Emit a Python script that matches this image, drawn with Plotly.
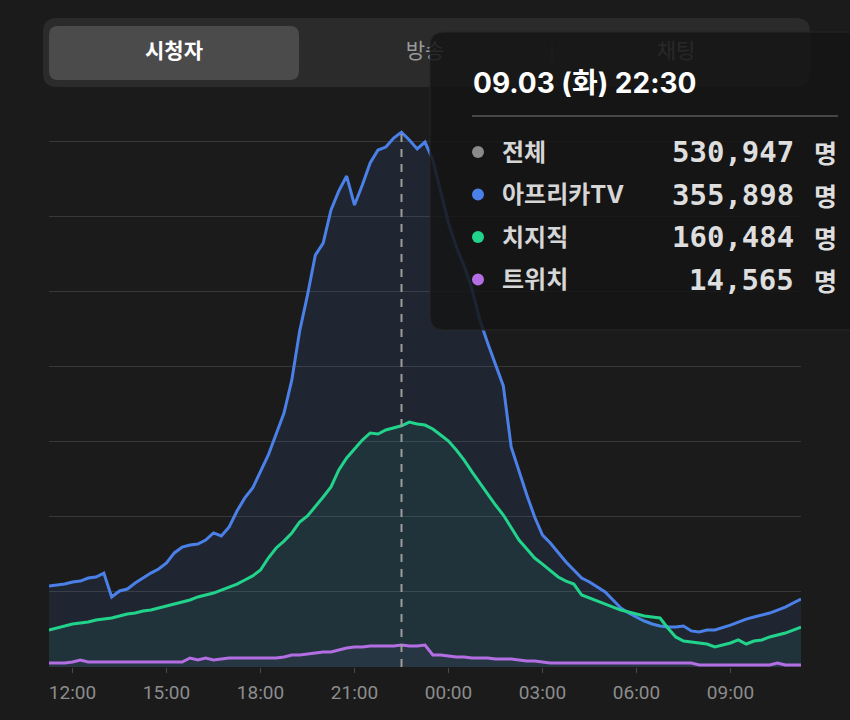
import pandas as pd
import plotly.graph_objects as go

# 09.03 11:15 ~ 09.04 11:15, 15분 간격
times = pd.date_range("2024-09-03 11:15", "2024-09-04 11:15", freq="15min")

afreeca = [
    53900, 54600, 55200, 56600, 57200, 59200, 59900, 62500, 46600, 50600,
    51900, 55900, 59200, 62500, 65200, 69200, 75900, 79800, 81200, 81800,
    84500, 89200, 87200, 93200, 103800, 112500, 119100, 129800, 141100, 155000,
    169000, 191000, 223600, 247500, 274100, 282100, 304100, 316800, 326700, 307400,
    320700, 335400, 344000, 346000, 352000, 355898, 350700, 344700, 349300, 337400,
    316000, 295400, 279500, 266800, 251500, 230900, 215600, 201000, 187000, 146400,
    129800, 114500, 99800, 87800, 82500, 75900, 69900, 64500, 59200, 56600,
    53200, 49900, 44600, 39300, 35900, 33300, 30600, 28600, 27300, 26600,
    26600, 27300, 24000, 23300, 24600, 24600, 26000, 27900, 29900, 31900,
    33300, 34600, 35900, 37900, 39900, 42600, 45200,
]
chzzk = [
    24600, 26000, 27300, 28600, 29300, 29900, 31300, 31900, 32600, 33900,
    35300, 35900, 37300, 37900, 39300, 40600, 41900, 43300, 44600, 46600,
    47900, 49200, 51200, 53200, 55200, 57900, 60600, 64500, 72500, 79200,
    83800, 89200, 96500, 100500, 106500, 113100, 119800, 131100, 139100, 145100,
    151000, 155700, 155000, 157700, 159000, 160484, 163000, 161700, 161000, 158400,
    154400, 150400, 144400, 137700, 129800, 122400, 115100, 107800, 101100, 92500,
    84500, 78500, 72500, 68500, 64500, 59900, 57200, 55200, 47900, 45900,
    43900, 41900, 39900, 37900, 36600, 35300, 33900, 33300, 32600, 26000,
    20000, 17300, 16600, 16000, 15300, 13300, 14600, 16000, 18000, 15300,
    17300, 18000, 20000, 21300, 22600, 24600, 26600,
]
twitch = [
    2700, 2700, 2700, 3300, 4700, 3300, 3300, 3300, 3300, 3300,
    3300, 3300, 3300, 3300, 3300, 3300, 3300, 3300, 6000, 4700,
    6000, 4700, 5300, 6000, 6000, 6000, 6000, 6000, 6000, 6000,
    6700, 8000, 8000, 8700, 9300, 10000, 10000, 11300, 12600, 13300,
    13300, 14000, 14000, 14000, 14000, 14565, 14000, 14000, 14600, 8000,
    8000, 7300, 6700, 6700, 6000, 6000, 6000, 5300, 5300, 5300,
    4700, 4000, 4000, 3300, 2700, 2700, 2700, 2700, 2700, 2700,
    2700, 2700, 2700, 2700, 2700, 2700, 2700, 2700, 2700, 2700,
    2700, 2700, 2700, 1300, 1300, 1300, 1300, 1300, 1300, 1300,
    1300, 1300, 1300, 2700, 1300, 1300, 1300,
]

series_names = ["아프리카TV", "치지직", "트위치"]
series_values = [afreeca, chzzk, twitch]
series_colors = ["#4a80e8", "#22d38c", "#b46ee3"]
fill_colors = ["rgba(74,128,232,0.11)", "rgba(34,200,160,0.08)", "rgba(180,110,227,0.05)"]
total_name = "전체"
total_color = "#8a8a8a"

tick_times = pd.date_range("2024-09-03 12:00", periods=8, freq="3h")
tabs = ["시청자", "방송", "채팅"]
hover_idx = 45
weekdays_ko = ["월", "화", "수", "목", "금", "토", "일"]

W, H = 850, 720
BG = "#1b1b1b"
PLOT_L, PLOT_R, PLOT_B, PLOT_T = 49, 801, 667, 100
PX_PER_50K = 75.14
KR = "Noto Sans CJK KR"


def rounded_rect(x0, y0, x1, y1, r):
    return (
        f"M {x0},{y0 + r} Q {x0},{y0} {x0 + r},{y0} L {x1 - r},{y0} "
        f"Q {x1},{y0} {x1},{y0 + r} L {x1},{y1 - r} Q {x1},{y1} {x1 - r},{y1} "
        f"L {x0 + r},{y1} Q {x0},{y1} {x0},{y1 - r} Z"
    )


fig = go.Figure()

for name, vals, color, fill in zip(series_names, series_values, series_colors, fill_colors):
    fig.add_trace(
        go.Scatter(
            x=times,
            y=vals,
            name=name,
            mode="lines",
            line=dict(color=color, width=3),
            fill="tozeroy",
            fillcolor=fill,
            hoverinfo="skip",
        )
    )

# 상단 탭 라벨 (툴팁 아래에 깔리도록 trace로)
fig.add_trace(
    go.Scatter(
        x=[174], y=[53], xaxis="x2", yaxis="y2", mode="text", text=[tabs[0]],
        textfont=dict(family=KR, size=21, color="#ffffff", weight="bold"),
        hoverinfo="skip",
    )
)
fig.add_trace(
    go.Scatter(
        x=[425, 676], y=[53, 53], xaxis="x2", yaxis="y2", mode="text", text=tabs[1:],
        textfont=dict(family=KR, size=21, color="#9a9a9a"),
        hoverinfo="skip",
    )
)

shapes = [
    dict(type="path", path=rounded_rect(43, 18, 810, 87, 14), xref="x2", yref="y2",
         fillcolor="#2b2b2b", line=dict(width=0), layer="below"),
    dict(type="path", path=rounded_rect(49, 26, 299, 80, 9), xref="x2", yref="y2",
         fillcolor="#4b4b4b", line=dict(width=0), layer="below"),
    dict(type="line", x0=552, x1=552, y0=45, y1=61, xref="x2", yref="y2",
         line=dict(color="#505050", width=1.5), layer="below"),
    dict(type="line", x0=times[hover_idx], x1=times[hover_idx], y0=0, y1=afreeca[hover_idx],
         xref="x", yref="y", line=dict(color="#9c9c9c", width=2, dash="8px,7px"), layer="above"),
    # 툴팁 박스
    dict(type="path", path=rounded_rect(430, 32, 890, 330, 14), xref="x2", yref="y2",
         fillcolor="rgba(21,21,21,0.86)", line=dict(color="#262626", width=1), layer="above"),
    dict(type="line", x0=472, x1=838, y0=116, y1=116, xref="x2", yref="y2",
         line=dict(color="#474747", width=2), layer="above"),
]

annotations = []
hover_time = times[hover_idx]
title = f"{hover_time:%m.%d} ({weekdays_ko[hover_time.weekday()]}) {hover_time:%H:%M}"
annotations.append(dict(
    x=471, y=83, xref="x2", yref="y2", text=title, showarrow=False, xanchor="left", yanchor="middle",
    font=dict(family=f"Inter, {KR}", size=28, color="#ffffff", weight="bold"),
))

rows = [(total_name, total_color, sum(v[hover_idx] for v in series_values))]
rows += [(n, c, v[hover_idx]) for n, c, v in zip(series_names, series_colors, series_values)]
for k, (name, color, value) in enumerate(rows):
    yc = 152 + 42.5 * k
    shapes.append(dict(type="circle", x0=472, x1=484, y0=yc - 6, y1=yc + 6, xref="x2", yref="y2",
                       fillcolor=color, line=dict(width=0), layer="above"))
    annotations.append(dict(
        x=500, y=yc, xref="x2", yref="y2", text=name, showarrow=False, xanchor="left", yanchor="middle",
        font=dict(family=f"Inter, {KR}", size=24, color="#d6d6d6", weight="bold"),
    ))
    annotations.append(dict(
        x=796, y=yc, xref="x2", yref="y2", text=f"{value:,}", showarrow=False, xanchor="right",
        yanchor="middle", font=dict(family="DejaVu Sans Mono", size=29, color="#dedede", weight="bold"),
    ))
    annotations.append(dict(
        x=812, y=yc, xref="x2", yref="y2", text="명", showarrow=False, xanchor="left", yanchor="middle",
        font=dict(family=KR, size=25, color="#dedede", weight="bold"),
    ))

y_top = (PLOT_B - PLOT_T) / PX_PER_50K * 50000

fig.update_layout(
    width=W,
    height=H,
    margin=dict(l=0, r=0, t=0, b=0),
    paper_bgcolor=BG,
    plot_bgcolor="rgba(0,0,0,0)",
    showlegend=False,
    xaxis=dict(
        domain=[PLOT_L / W, PLOT_R / W],
        type="date",
        range=[times[0], times[-1]],
        tickvals=tick_times,
        tickformat="%H:%M",
        ticks="outside",
        ticklen=5,
        tickcolor="#4a4a4a",
        ticklabelstandoff=3,
        tickfont=dict(family="Roboto", size=19, color="#8c8c8c"),
        showgrid=False,
        zeroline=False,
        showline=False,
        fixedrange=True,
    ),
    yaxis=dict(
        domain=[(H - PLOT_B) / H, (H - PLOT_T) / H],
        range=[0, y_top],
        dtick=50000,
        tick0=0,
        showgrid=True,
        gridcolor="#383838",
        gridwidth=1,
        zeroline=False,
        showticklabels=False,
        fixedrange=True,
    ),
    xaxis2=dict(domain=[0, 1], range=[0, W], visible=False, fixedrange=True, anchor="y2"),
    yaxis2=dict(domain=[0, 1], range=[H, 0], visible=False, fixedrange=True, anchor="x2"),
    shapes=shapes,
    annotations=annotations,
)

fig.write_html(
    "out.html",
    config={"displayModeBar": False},
    post_script="document.body.style.margin='0';document.body.style.overflow='hidden';",
)
